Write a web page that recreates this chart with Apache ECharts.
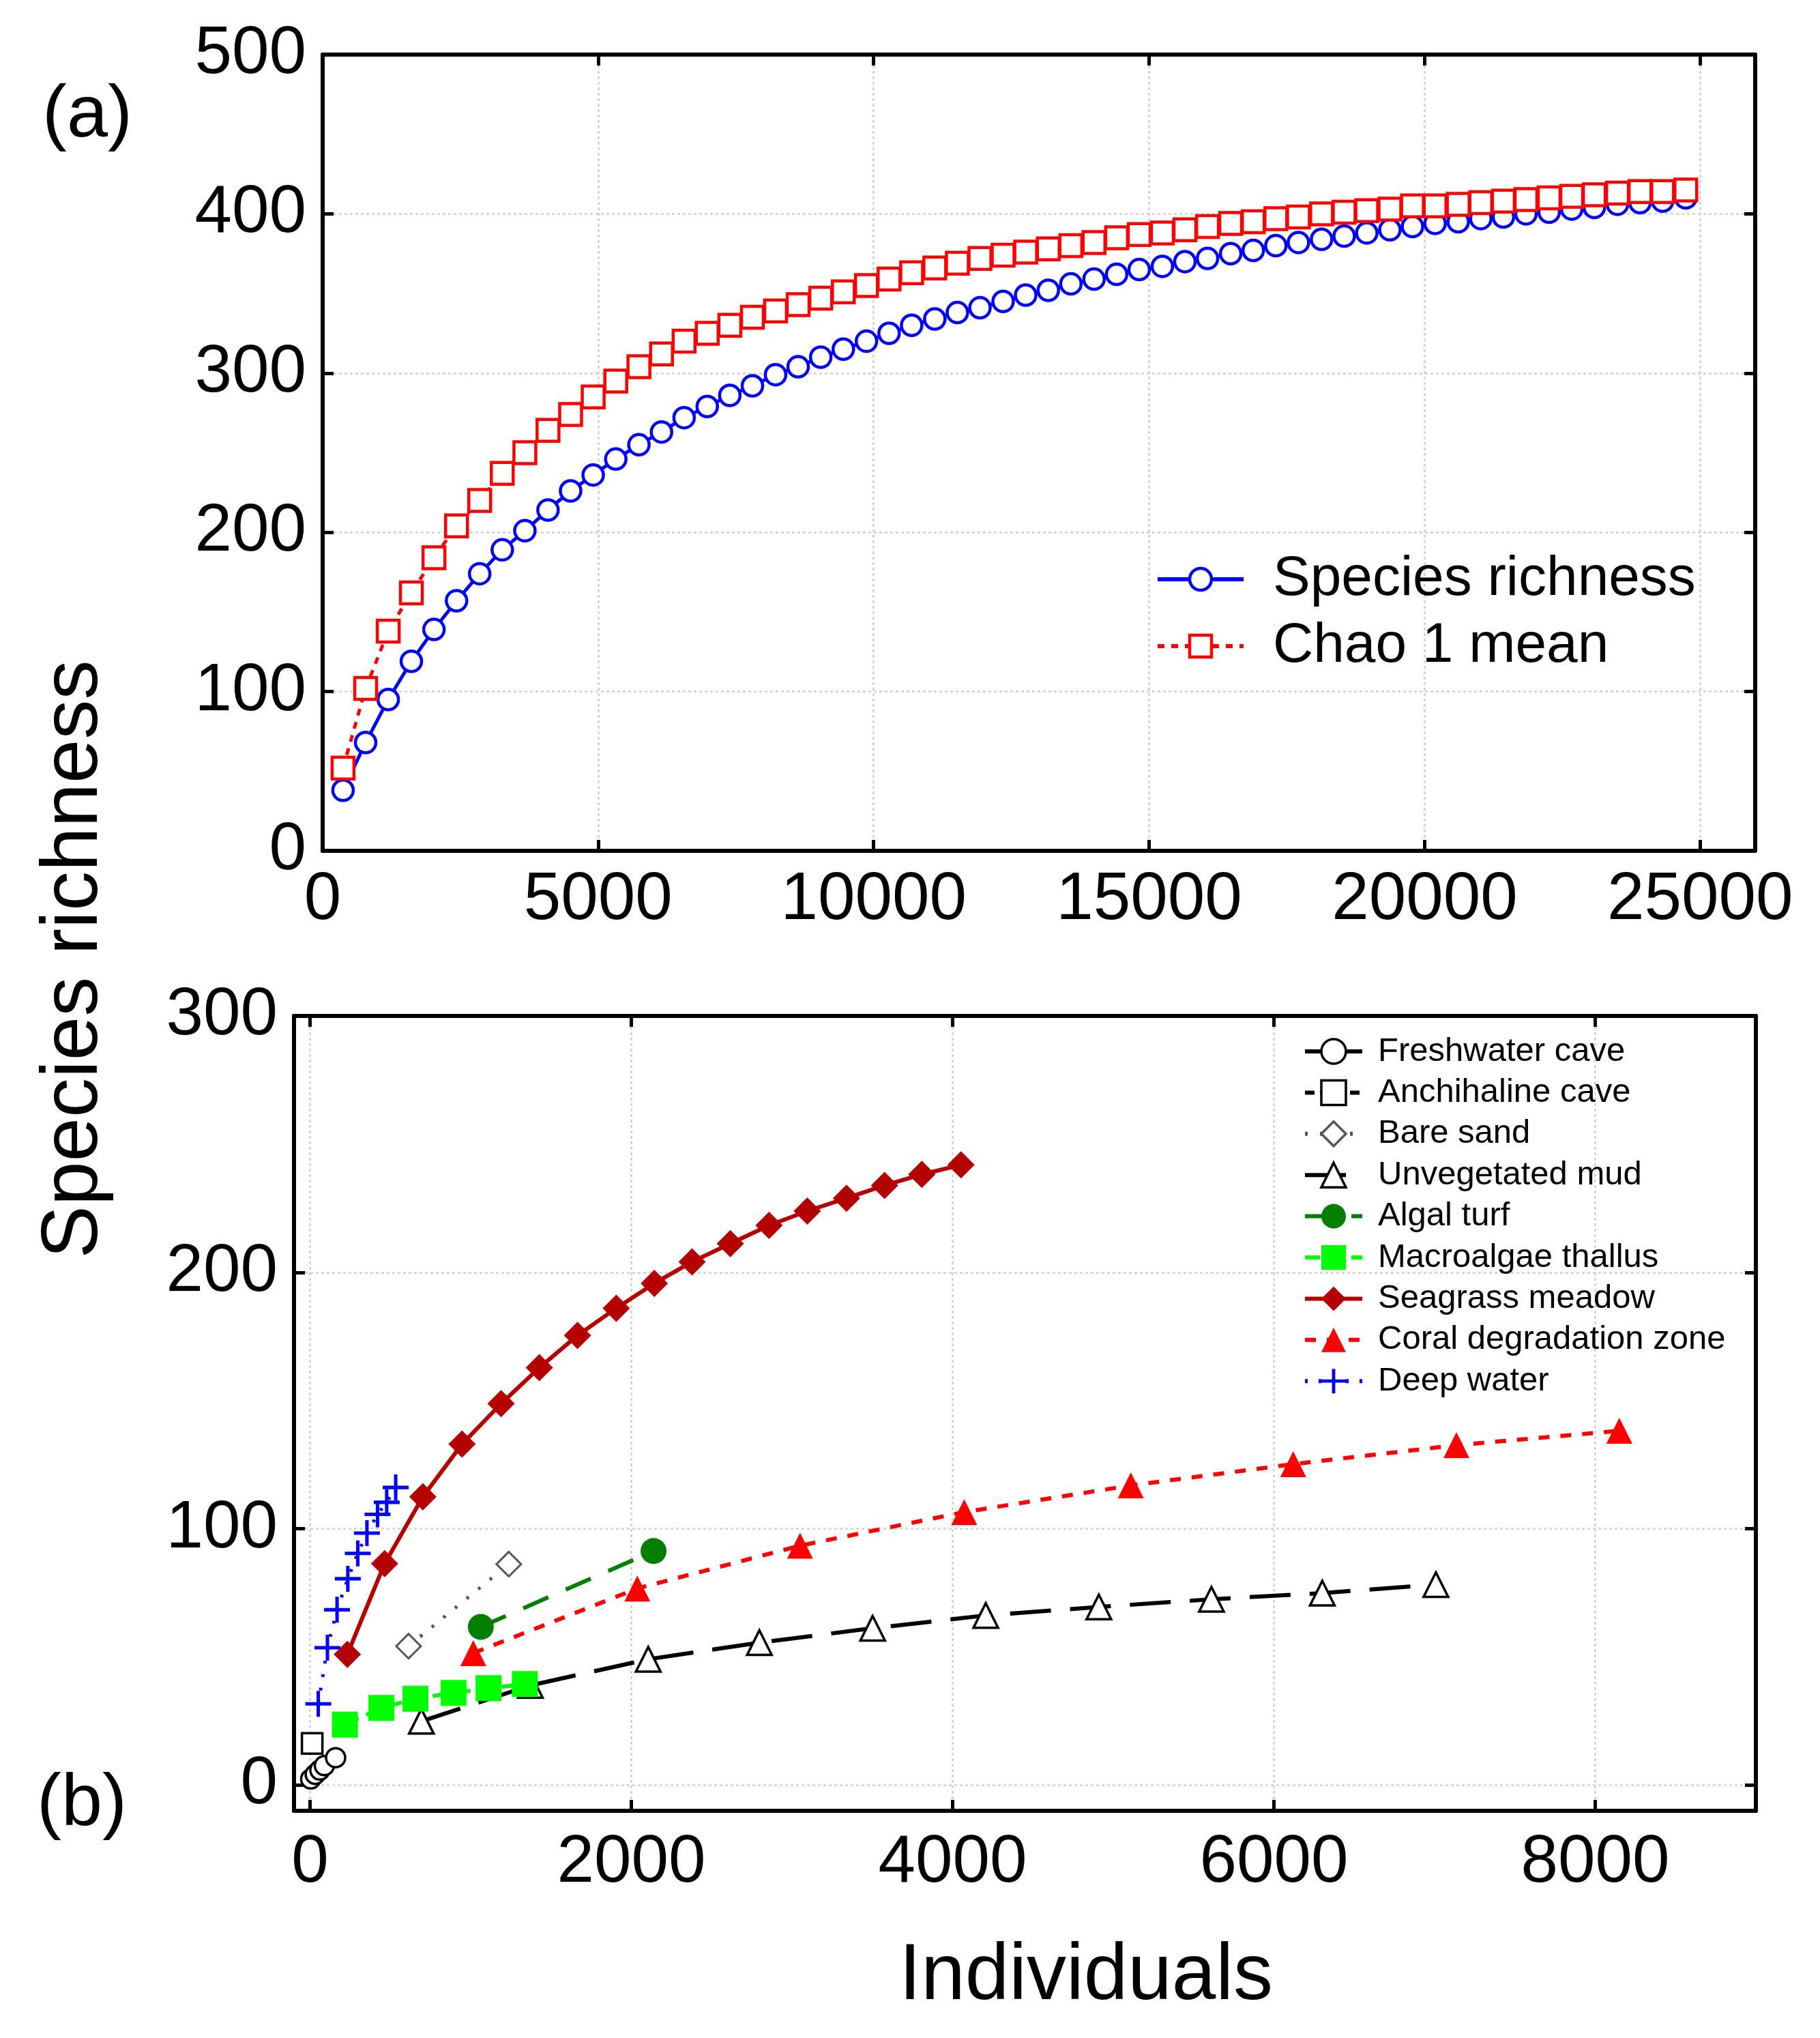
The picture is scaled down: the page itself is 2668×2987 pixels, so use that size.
<!DOCTYPE html>
<html><head><meta charset="utf-8">
<script src="https://cdn.jsdelivr.net/npm/echarts@6/dist/echarts.min.js"></script>
<style>html,body{margin:0;padding:0;background:#fff}#c{width:2668px;height:2987px}</style>
</head><body><div id="c"></div>
<script>
const FONT = '"Liberation Sans", Arial, sans-serif';

// ---------- Panel (a) ----------
const aIndividuals = [370, 780, 1190, 1610, 2020, 2430, 2850, 3260, 3670, 4090, 4500, 4910, 5320, 5740, 6150, 6560, 6980, 7390, 7800, 8220, 8630, 9040, 9450, 9870, 10280, 10690, 11110, 11520, 11930, 12350, 12760, 13170, 13580, 14000, 14410, 14820, 15240, 15650, 16060, 16480, 16890, 17300, 17710, 18130, 18540, 18950, 19370, 19780, 20190, 20610, 21020, 21430, 21840, 22260, 22670, 23080, 23500, 23910, 24320, 24740];
const aSpeciesRichness = [38, 68, 95, 119, 139, 157, 174, 189, 201, 214, 226, 236, 246, 255, 263, 272, 279, 286, 292, 299, 304, 310, 315, 320, 325, 330, 334, 338, 341, 345, 349, 352, 356, 359, 362, 365, 367, 370, 372, 375, 377, 380, 382, 384, 386, 388, 390, 392, 394, 395, 397, 398, 400, 401, 403, 404, 406, 407, 408, 410];
const aChao1Mean = [52, 102, 138, 162, 184, 204, 220, 237, 250, 264, 274, 285, 295, 304, 312, 320, 325, 330, 335, 339, 343, 347, 351, 355, 359, 363, 366, 369, 372, 374, 376, 378, 380, 382, 385, 387, 388, 390, 392, 394, 395, 397, 398, 400, 401, 402, 403, 405, 405, 406, 407, 408, 409, 410, 411, 412, 413, 414, 414, 415];
const aXTicks = [0, 5000, 10000, 15000, 20000, 25000];
const aYTicks = [0, 100, 200, 300, 400, 500];

// ---------- Panel (b) ----------
const freshwaterX = [4, 32, 61, 89, 159];
const freshwaterY = [2.4, 4.2, 5.9, 7.6, 10.7];
const anchihalineX = [13];
const anchihalineY = [16.3];
const bareSandX = [613, 1237];
const bareSandY = [54.2, 86.2];
const mudX = [693, 1371, 2105, 2797, 3502, 4206, 4910, 5611, 6301, 7008];
const mudY = [24.9, 38.9, 49.1, 55.6, 61.2, 66.2, 69.5, 72.5, 74.9, 78.2];
const algalTurfX = [1063, 2138];
const algalTurfY = [61.7, 91.3];
const macroalgaeX = [217, 444, 656, 893, 1111, 1337];
const macroalgaeY = [23.6, 30.1, 33.7, 36.0, 37.8, 39.4];
const seagrassX = [232, 464, 702, 946, 1189, 1427, 1665, 1906, 2143, 2378, 2616, 2857, 3095, 3339, 3576, 3808, 4052];
const seagrassY = [51.0, 86.4, 112.5, 133.0, 148.8, 162.8, 175.4, 186.0, 195.7, 204.1, 211.2, 218.3, 223.9, 228.9, 233.9, 238.2, 241.9];
const coralX = [1016, 2037, 3050, 4072, 5109, 6120, 7136, 8150];
const coralY = [51.5, 76.7, 93.4, 106.5, 116.9, 125.2, 132.6, 138.2];
const deepX = [51, 108, 168, 235, 297, 354, 420, 477, 533];
const deepY = [31.7, 53.6, 68.4, 80.5, 90.4, 98.3, 105.6, 110.3, 116.1];
const bXTicks = [0, 2000, 4000, 6000, 8000];
const bYTicks = [0, 100, 200, 300];

const zip = (xs, ys) => xs.map((x, i) => [x, ys[i]]);
const PLUS = 'path://M-1,-7.5H1V-1H7.5V1H1V7.5H-1V1H-7.5V-1H-1Z';

function axis(grid, pos, min, max, ticks, labels, lblMargin) {
  return {
    type: 'value', gridIndex: grid, position: pos, min: min, max: max,
    axisLine: { show: true, onZero: false, lineStyle: { color: '#000', width: 6 } },
    axisTick: { show: true, inside: true, length: 16, customValues: ticks, lineStyle: { color: '#000', width: 5 } },
    axisLabel: labels ? { show: true, customValues: ticks, margin: lblMargin, fontSize: 98, fontFamily: FONT, color: '#000', formatter: v => String(v) } : { show: false },
    splitLine: labels ? { show: true, lineStyle: { color: '#cfcfcf', width: 2.5, type: [4, 4] } } : { show: false }
  };
}

const option = {
  animation: false,
  backgroundColor: '#fff',
  grid: [
    { left: 473, top: 80, width: 2100, height: 1167, containLabel: false },
    { left: 431, top: 1489, width: 2143, height: 1165, containLabel: false }
  ],
  xAxis: [
    axis(0, 'bottom', 0, 26000, aXTicks, true, 24),
    axis(0, 'top', 0, 26000, aXTicks, false),
    axis(1, 'bottom', -100, 9000, bXTicks, true, 28),
    axis(1, 'top', -100, 9000, bXTicks, false)
  ],
  yAxis: [
    axis(0, 'left', 0, 500, aYTicks, true, 24),
    axis(0, 'right', 0, 500, aYTicks, false),
    axis(1, 'left', -10, 300, bYTicks, true, 24),
    axis(1, 'right', -10, 300, bYTicks, false)
  ],
  legend: [
    {
      data: ['Species richness', 'Chao 1 mean'],
      orient: 'vertical', left: 1689, top: 803,
      itemWidth: 126, itemHeight: 40, itemGap: 16,
      lineStyle: { width: 6 },
      itemStyle: { borderWidth: 4.5 },
      textStyle: { fontSize: 82, fontFamily: FONT, color: '#000', lineHeight: 82, padding: [0, 0, 0, 38] },
      selectedMode: false
    },
    {
      data: ['Freshwater cave', 'Anchihaline cave', 'Bare sand', 'Unvegetated mud', 'Algal turf', 'Macroalgae thallus', 'Seagrass meadow', 'Coral degradation zone', 'Deep water'],
      orient: 'vertical', left: 1905, top: 1511,
      itemWidth: 84, itemHeight: 45, itemGap: 10.4,
      lineStyle: { width: 6 },
      itemStyle: { borderWidth: 3.5 },
      textStyle: { fontSize: 49, fontFamily: FONT, color: '#000', lineHeight: 50, padding: [0, 0, 0, 18] },
      selectedMode: false
    }
  ],
  graphic: [
    { type: 'text', x: 128, y: 170, style: { text: '(a)', fontSize: 108, fontFamily: FONT, fill: '#000', align: 'center', verticalAlign: 'middle' } },
    { type: 'text', x: 120, y: 2645, style: { text: '(b)', fontSize: 108, fontFamily: FONT, fill: '#000', align: 'center', verticalAlign: 'middle' } },
    { type: 'text', x: 110, y: 1406, rotation: Math.PI / 2, style: { text: 'Species richness', fontSize: 116, fontFamily: FONT, fill: '#000', align: 'center', verticalAlign: 'middle' } },
    { type: 'text', x: 1592, y: 2898, style: { text: 'Individuals', fontSize: 116, fontFamily: FONT, fill: '#000', align: 'center', verticalAlign: 'middle' } }
  ],
  series: [
    { type: 'line', name: 'Species richness', xAxisIndex: 0, yAxisIndex: 0, data: zip(aIndividuals, aSpeciesRichness),
      symbol: 'circle', symbolSize: 30, itemStyle: { color: '#fff', borderColor: '#0000ff', borderWidth: 4.5 },
      lineStyle: { color: '#0000ff', width: 5 } },
    { type: 'line', name: 'Chao 1 mean', xAxisIndex: 0, yAxisIndex: 0, data: zip(aIndividuals, aChao1Mean),
      symbol: 'rect', symbolSize: 32, itemStyle: { color: '#fff', borderColor: '#ff0000', borderWidth: 4.5 },
      lineStyle: { color: '#ff0000', width: 5, type: [10, 10] } },

    { type: 'line', name: 'Freshwater cave', xAxisIndex: 2, yAxisIndex: 2, data: zip(freshwaterX, freshwaterY),
      symbol: 'circle', symbolSize: 28, itemStyle: { color: '#fff', borderColor: '#000', borderWidth: 3.5 },
      lineStyle: { color: '#000', width: 5 } },
    { type: 'line', name: 'Anchihaline cave', xAxisIndex: 2, yAxisIndex: 2, data: zip(anchihalineX, anchihalineY),
      symbol: 'rect', symbolSize: 30, itemStyle: { color: '#fff', borderColor: '#000', borderWidth: 3.5 },
      lineStyle: { color: '#000', width: 6, type: [14, 8] } },
    { type: 'line', name: 'Bare sand', xAxisIndex: 2, yAxisIndex: 2, data: zip(bareSandX, bareSandY),
      symbol: 'diamond', symbolSize: 36, itemStyle: { color: '#fff', borderColor: '#555', borderWidth: 3 },
      lineStyle: { color: '#555', width: 5, type: [4, 18] } },
    { type: 'line', name: 'Unvegetated mud', xAxisIndex: 2, yAxisIndex: 2, data: zip(mudX, mudY),
      symbol: 'triangle', symbolSize: 36, itemStyle: { color: '#fff', borderColor: '#000', borderWidth: 3.5 },
      lineStyle: { color: '#000', width: 6, type: [60, 28] } },
    { type: 'line', name: 'Algal turf', xAxisIndex: 2, yAxisIndex: 2, data: zip(algalTurfX, algalTurfY),
      symbol: 'circle', symbolSize: 38, itemStyle: { color: '#007f00' },
      lineStyle: { color: '#007f00', width: 6, type: [40, 28] } },
    { type: 'line', name: 'Macroalgae thallus', xAxisIndex: 2, yAxisIndex: 2, data: zip(macroalgaeX, macroalgaeY),
      symbol: 'rect', symbolSize: 38, itemStyle: { color: '#00ff00' },
      lineStyle: { color: '#00ff00', width: 6, type: [22, 12] } },
    { type: 'line', name: 'Seagrass meadow', xAxisIndex: 2, yAxisIndex: 2, data: zip(seagrassX, seagrassY),
      symbol: 'diamond', symbolSize: 40, itemStyle: { color: '#b40000' },
      lineStyle: { color: '#b40000', width: 6 } },
    { type: 'line', name: 'Coral degradation zone', xAxisIndex: 2, yAxisIndex: 2, data: zip(coralX, coralY),
      symbol: 'triangle', symbolSize: 38, itemStyle: { color: '#ff0000' },
      lineStyle: { color: '#ff0000', width: 6, type: [16, 16] } },
    { type: 'line', name: 'Deep water', xAxisIndex: 2, yAxisIndex: 2, data: zip(deepX, deepY),
      symbol: PLUS, symbolSize: 38, itemStyle: { color: '#0000ff' },
      lineStyle: { color: '#0000ff', width: 5, type: [4, 16] } }
  ]
};

const chart = echarts.init(document.getElementById('c'), null, { renderer: 'canvas' });
chart.setOption(option);
</script>
</body></html>
